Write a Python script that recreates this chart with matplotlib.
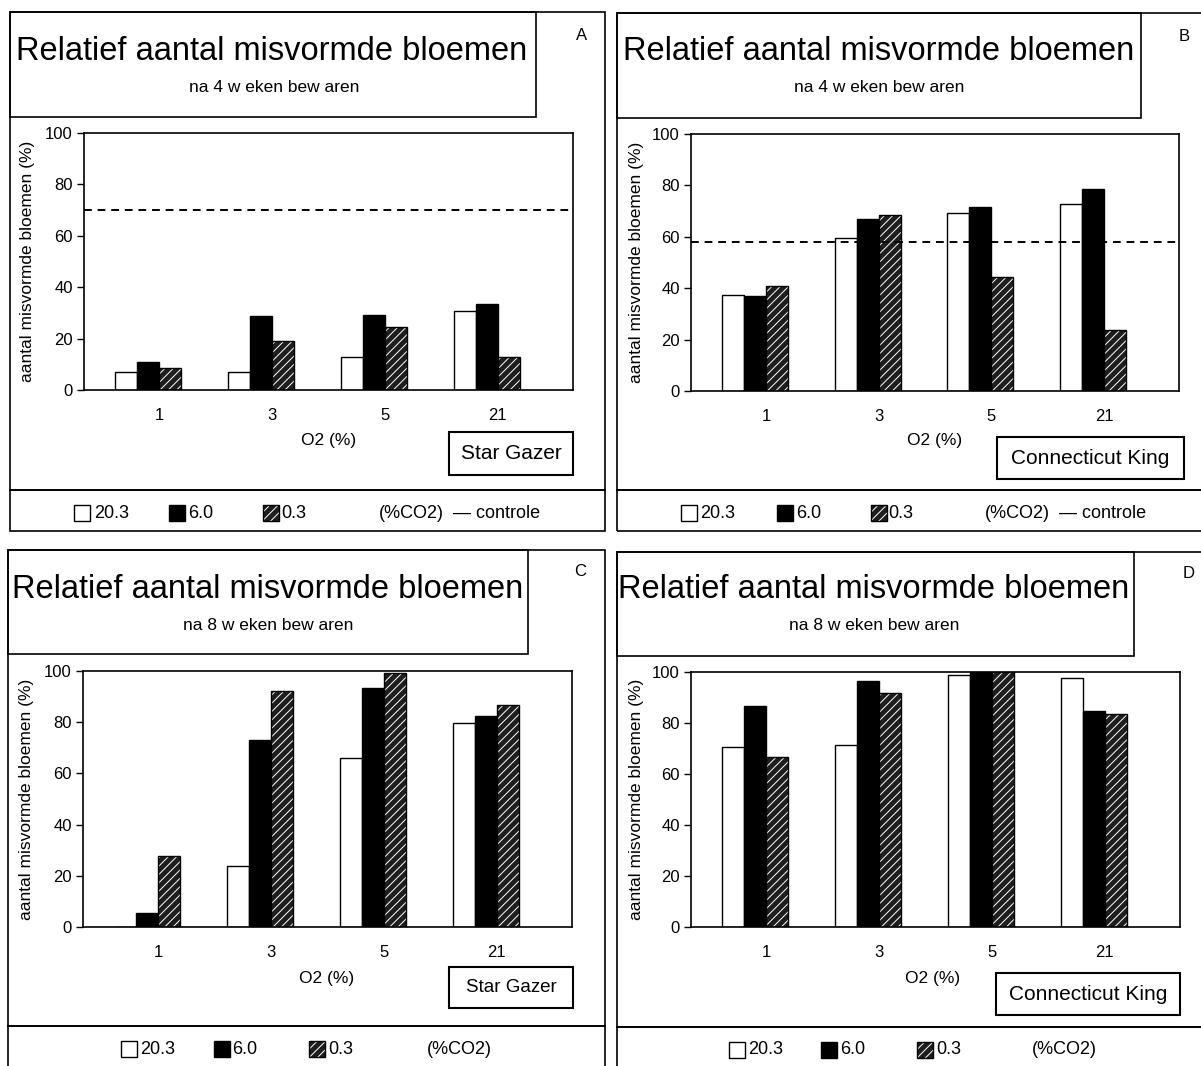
import matplotlib.pyplot as plt
from matplotlib.patches import Rectangle
from matplotlib.lines import Line2D
import numpy as np

plt.rcParams['font.family'] = ['Liberation Sans', 'DejaVu Sans']
plt.rcParams['hatch.linewidth'] = 0.7

# data
o2_labels = ['1', '3', '5', '21']
co2_labels = ['20.3', '6.0', '0.3']

a_203 = [7.0, 7.0, 12.9, 30.7]
a_60 = [11.0, 28.8, 29.2, 33.4]
a_03 = [8.6, 18.9, 24.4, 12.9]
a_controle = 70

b_203 = [37.4, 59.4, 69.1, 72.9]
b_60 = [36.9, 67.1, 71.7, 78.6]
b_03 = [40.7, 68.4, 44.3, 23.8]
b_controle = 58

c_203 = [0, 24.0, 66.1, 79.5]
c_60 = [5.6, 72.9, 93.3, 82.3]
c_03 = [27.6, 92.0, 99.2, 86.6]

d_203 = [70.5, 71.2, 98.8, 97.5]
d_60 = [86.6, 96.4, 100, 84.9]
d_03 = [66.6, 91.6, 100, 83.7]

W, H = 1201, 1066
fig = plt.figure(figsize=(W / 100, H / 100), dpi=100)


def fx(x):
    return x / W


def fy(y):
    return 1 - y / H


def rect(x0, y0, x1, y1, lw=1.1, **kw):
    fig.add_artist(Rectangle((fx(x0), fy(y1)), fx(x1) - fx(x0), fy(y0) - fy(y1),
                             transform=fig.transFigure, lw=lw, **kw))


def hline(x0, x1, y, lw=1.1):
    fig.add_artist(Line2D([fx(x0), fx(x1)], [fy(y), fy(y)], transform=fig.transFigure,
                          color='black', lw=lw))


def txt(x, y, s, size, **kw):
    fig.text(fx(x), fy(y), s, fontsize=size, **kw)


# white, black, and dark with thin white diagonal stripes (hatch drawn in white, outline on top)
bar_styles = [[dict(facecolor='white', edgecolor='black')],
              [dict(facecolor='black', edgecolor='black')],
              [dict(facecolor='#1e1e1e', edgecolor='white', hatch='////', lw=0),
               dict(fill=False, edgecolor='black')]]

panels = [
    dict(letter='A', sub='na 4 w eken bew aren', series=[a_203, a_60, a_03], controle=a_controle,
         name='Star Gazer', frame=(10, 12, 605, 531), tbox=(10, 12, 536, 117), title=(272, 60),
         subt=(274, 92), let=(582, 40), plot=(84, 133, 573, 390), ylab=28, o2=(329, 441),
         nbox=(449, 432, 573, 475), sep=490, leg_y=513,
         leg_sq=[74, 169, 263], leg_tx=[94, 188, 281], leg_co2=379, leg_ctrl=453),
    dict(letter='B', sub='na 4 w eken bew aren', series=[b_203, b_60, b_03], controle=b_controle,
         name='Connecticut King', frame=(617, 13, 1205, 531), tbox=(617, 13, 1141, 118),
         title=(879, 60), subt=(879, 92), let=(1184, 41), plot=(691, 134, 1179, 391), ylab=636,
         o2=(935, 441), nbox=(997, 437, 1184, 479), sep=490, leg_y=513,
         leg_sq=[681, 777, 871], leg_tx=[700, 796, 888], leg_co2=985, leg_ctrl=1059),
    dict(letter='C', sub='na 8 w eken bew aren', series=[c_203, c_60, c_03], controle=None,
         name='Star Gazer', frame=(8, 550, 605, 1070), tbox=(8, 550, 528, 654), title=(268, 598),
         subt=(268, 630), let=(580, 576), plot=(83, 671, 572, 927), ylab=27, o2=(327, 978),
         nbox=(449, 967, 573, 1008), sep=1026, leg_y=1049,
         leg_sq=[121, 214, 309], leg_tx=[140, 232, 328], leg_co2=427, leg_ctrl=None),
    dict(letter='D', sub='na 8 w eken bew aren', series=[d_203, d_60, d_03], controle=None,
         name='Connecticut King', frame=(617, 552, 1205, 1070), tbox=(617, 552, 1134, 656),
         title=(874, 598), subt=(874, 630), let=(1189, 578), plot=(691, 672, 1180, 927),
         ylab=636, o2=(933, 978), nbox=(996, 973, 1180, 1015), sep=1027, leg_y=1050,
         leg_sq=[729, 821, 917], leg_tx=[748, 840, 936], leg_co2=1032, leg_ctrl=None),
]

x = np.arange(len(o2_labels))
w = 0.195
offsets = [-1.5 * w, -0.5 * w, 0.5 * w]

for p in panels:
    # frames
    rect(*p['frame'], fill=False, ec='black', lw=1.2)
    rect(*p['tbox'], fill=False, ec='black', lw=1.2)
    hline(p['frame'][0], p['frame'][2], p['sep'], lw=1.4)

    txt(p['title'][0], p['title'][1], 'Relatief aantal misvormde bloemen', 23.5,
        ha='center', va='baseline')
    txt(p['subt'][0], p['subt'][1], p['sub'], 12.5, ha='center', va='baseline')
    txt(p['let'][0], p['let'][1], p['letter'], 12, ha='center', va='baseline')

    x0, y0, x1, y1 = p['plot']
    ax = fig.add_axes([fx(x0), fy(y1), fx(x1) - fx(x0), fy(y0) - fy(y1)])
    for vals, off, styles in zip(p['series'], offsets, bar_styles):
        for st in styles:
            kw = dict(lw=1.0)
            kw.update(st)
            ax.bar(x + off, vals, w, **kw)
    if p['controle'] is not None:
        ax.axhline(p['controle'], color='black', lw=1.4, ls=(0, (4, 3)))
    ax.set_xlim(-0.665, 3.665)
    ax.set_ylim(0, 100)
    ax.set_yticks([0, 20, 40, 60, 80, 100])
    ax.set_xticks(x)
    ax.set_xticklabels(o2_labels)
    ax.tick_params(axis='x', length=0, pad=13, labelsize=12)
    ax.tick_params(axis='y', length=5, width=1, pad=3, labelsize=12)
    for s in ax.spines.values():
        s.set_linewidth(1.2)

    txt(p['ylab'], (y0 + y1) / 2, 'aantal misvormde bloemen (%)', 12.5, rotation=90,
        ha='center', va='center')
    txt(p['o2'][0], p['o2'][1], 'O2 (%)', 12.5, ha='center', va='center')

    nx0, ny0, nx1, ny1 = p['nbox']
    rect(nx0, ny0, nx1, ny1, fill=False, ec='black', lw=1.5)
    txt((nx0 + nx1) / 2, (ny0 + ny1) / 2, p['name'], 15 if p['letter'] != 'C' else 13.5,
        ha='center', va='center')

    # legend row
    ly = p['leg_y']
    for sx, tx, lab, styles in zip(p['leg_sq'], p['leg_tx'], co2_labels, bar_styles):
        for st in styles:
            kw = dict(lw=1.0)
            kw.update(st)
            rect(sx, ly - 8, sx + 16, ly + 8, **kw)
        txt(tx, ly, lab, 13, ha='left', va='center')
    txt(p['leg_co2'], ly, '(%CO2)', 13, ha='left', va='center')
    if p['leg_ctrl'] is not None:
        txt(p['leg_ctrl'], ly, '— controle', 13, ha='left', va='center')

fig.savefig('out.png', dpi=100)
